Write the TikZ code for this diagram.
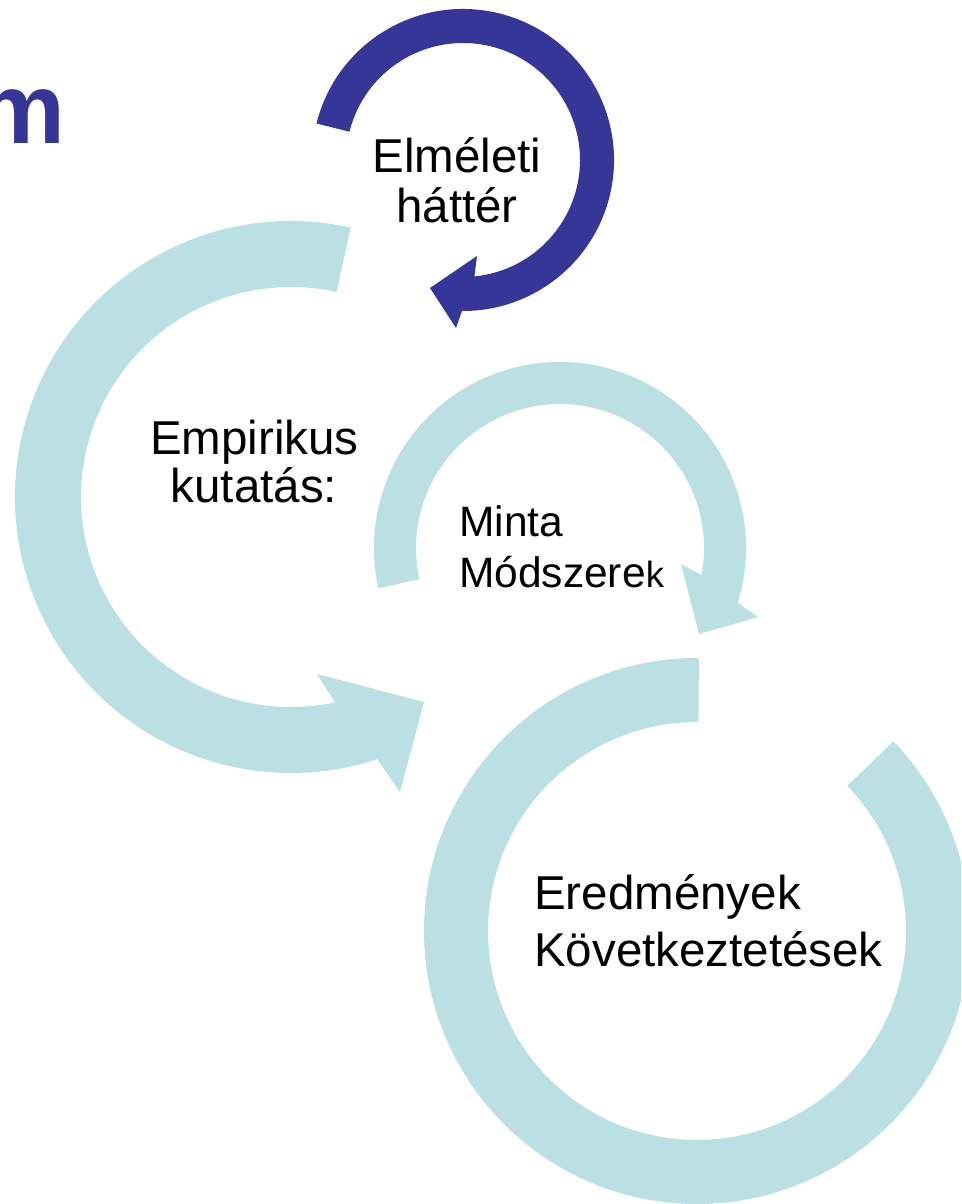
\documentclass[tikz,border=0pt]{standalone}
\usepackage{fontspec}
\setmainfont{Liberation Sans}
\usetikzlibrary{calc}
\definecolor{ringblue}{RGB}{187,224,227}
\definecolor{darkarc}{RGB}{54,54,152}
\begin{document}
\begin{tikzpicture}[x=1pt,y=-1pt,
  bigtxt/.style={inner sep=0pt, text=black, font=\fontsize{47.5}{50}\selectfont},
  midtxt/.style={inner sep=0pt, text=black, font=\fontsize{42.5}{50}\selectfont},
  titletxt/.style={inner sep=0pt, text=darkarc, font=\bfseries\fontsize{100}{110}\selectfont}]
\useasboundingbox (0,0) rectangle (961,1204);
\fill[white] (0,0) rectangle (961,1204);
\begin{scope}
\clip (0,0) rectangle (961,1204);
% big left arc with arrowhead (Empirikus kutatas)
\fill[ringblue] ($(291,497)+(282.5:276)$) arc[start angle=282.5, end angle=71.8, radius=276]
  -- (400,792) -- (424,702) -- (317,674)
  -- ($(291,497)+(77.9:210)$) arc[start angle=77.9, end angle=282.5, radius=210] -- cycle;
% middle arc (Minta, Modszerek)
\fill[ringblue] ($(560,548)+(167.5:186)$) arc[start angle=167.5, end angle=377.1, radius=186]
  -- (758,617) -- (699,634) -- (681,564)
  -- ($(560,548)+(370.8:144)$) arc[start angle=370.8, end angle=167.5, radius=144] -- cycle;
% bottom right ring (Eredmenyek)
\fill[ringblue] ($(697,931)+(270.4:273)$) arc[start angle=270.4, end angle=-44, radius=273]
  -- ($(697,931)+(-44:209)$) arc[start angle=-44, end angle=270.4, radius=209] -- cycle;
% dark arc (Elmeleti hatter)
\fill[darkarc] ($(463,160)+(194:151)$) arc[start angle=194, end angle=450.4, radius=151]
  -- (456,328) -- (430,288) -- (477,256)
  -- ($(463,160)+(444.4:117)$) arc[start angle=444.4, end angle=194, radius=117] -- cycle;
\end{scope}
% texts
\node[titletxt, anchor=base east] (title) at (66,143) {m};
\node[bigtxt, anchor=base] (elm1) at (457,172) {Elméleti};
\node[bigtxt, anchor=base] (elm2) at (457,222) {háttér};
\node[bigtxt, anchor=base] (emp1) at (254.5,454) {Empirikus};
\node[bigtxt, anchor=base] (emp2) at (254,502) {kutatás:};
\node[midtxt, anchor=base west] (min1) at (459,536) {Minta};
\node[midtxt, anchor=base west] (min2) at (459,587) {Módszere{\fontsize{36.5}{40}\selectfont k}};
\node[bigtxt, anchor=base west] (ere1) at (534,909) {Eredmények};
\node[bigtxt, anchor=base west] (ere2) at (534,966) {Következtetések};
\end{tikzpicture}
\end{document}
